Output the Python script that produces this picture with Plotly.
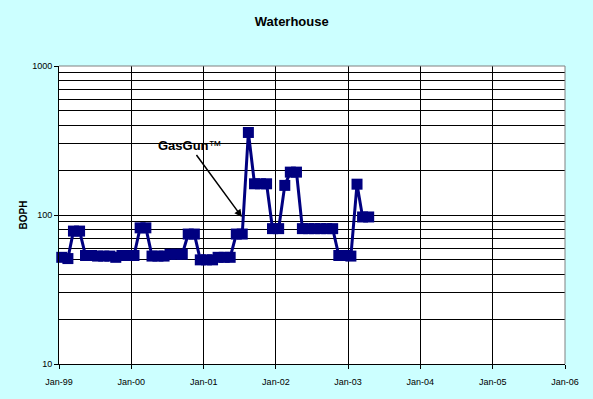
import math
import plotly.graph_objects as go

# ---- data (monthly readings) ----
dates = [
    "1999-01-15", "1999-02-15", "1999-03-15", "1999-04-15", "1999-05-15", "1999-06-15",
    "1999-07-15", "1999-08-15", "1999-09-15", "1999-10-15", "1999-11-15", "1999-12-15",
    "2000-01-15", "2000-02-15", "2000-03-15", "2000-04-15", "2000-05-15", "2000-06-15",
    "2000-07-15", "2000-08-15", "2000-09-15", "2000-10-15", "2000-11-15", "2000-12-15",
    "2001-01-15", "2001-02-15", "2001-03-15", "2001-04-15", "2001-05-15", "2001-06-15",
    "2001-07-15", "2001-08-15", "2001-09-15", "2001-10-15", "2001-11-15", "2001-12-15",
    "2002-01-15", "2002-02-15", "2002-03-15", "2002-04-15", "2002-05-15", "2002-06-15",
    "2002-07-15", "2002-08-15", "2002-09-15", "2002-10-15", "2002-11-15", "2002-12-15",
    "2003-01-15", "2003-02-15", "2003-03-15", "2003-04-15",
]
boph = [
    52, 51, 78, 78, 53.5, 53.5, 53, 53, 53, 52, 53.5, 53.5,
    53.5, 82, 82, 53, 53, 53, 54.5, 54.5, 54.5, 74.5, 74.5, 50,
    50, 50, 52, 52, 52, 74.5, 74.5, 358, 162, 162, 162, 81,
    81, 158, 194, 194, 81, 81, 81, 81, 81, 81, 53.5, 53.5,
    53, 161, 97, 97,
]
x_ticks = ["1999-01-01", "2000-01-01", "2001-01-01", "2002-01-01",
           "2003-01-01", "2004-01-01", "2005-01-01", "2006-01-01"]
x_labels = ["Jan-99", "Jan-00", "Jan-01", "Jan-02", "Jan-03", "Jan-04", "Jan-05", "Jan-06"]
y_ticks = [10, 100, 1000]
y_labels = ["10", "100", "1000"]
y_minor = [20, 30, 40, 50, 60, 70, 80, 90, 200, 300, 400, 500, 600, 700, 800, 900]

annot_date = "2001-07-13"
annot_value = 97
annot_text = "<b>GasGun</b>™"

NAVY = "#000080"
FONT = "Liberation Sans, Arial, sans-serif"

fig = go.Figure()
fig.add_trace(go.Scatter(
    x=dates, y=boph, mode="lines+markers",
    line=dict(color=NAVY, width=3),
    marker=dict(symbol="square", size=11, color=NAVY),
    showlegend=False, cliponaxis=False,
))

fig.update_layout(
    width=593, height=399,
    margin=dict(l=58.5, r=27.5, t=66, b=35),
    paper_bgcolor="#CCFFFF",
    plot_bgcolor="#FFFFFF",
    font=dict(family=FONT, size=9, color="#000000"),
    title=dict(text="<b>Waterhouse</b>", x=0.492, xref="container", xanchor="center",
               y=0.945, yref="container", yanchor="middle",
               font=dict(family=FONT, size=13, color="#000000")),
    xaxis=dict(
        type="date", range=["1999-01-01", "2006-01-01"],
        tickvals=x_ticks, ticktext=x_labels,
        showgrid=True, gridcolor="#000000", gridwidth=1,
        showline=True, linecolor="#000000", linewidth=1,
        ticks="outside", ticklen=4, tickcolor="#000000",
        ticklabelstandoff=5,
        zeroline=False, automargin=False,
        tickfont=dict(size=9),
    ),
    yaxis=dict(
        type="log", range=[1, 3],
        tickvals=y_ticks, ticktext=y_labels,
        showgrid=True, gridcolor="#000000", gridwidth=1,
        minor=dict(tickvals=y_minor, showgrid=True, gridcolor="#000000", gridwidth=1, ticks=""),
        showline=True, linecolor="#000000", linewidth=1,
        ticks="outside", ticklen=4, tickcolor="#000000",
        zeroline=False, automargin=False,
        tickfont=dict(size=9),
        title=dict(text="<b>BOPH</b>", standoff=2, font=dict(size=10)),
    ),
    shapes=[
        dict(type="line", xref="paper", yref="paper", x0=0, x1=1, y0=1, y1=1,
             line=dict(color="#808080", width=1), layer="above"),
        dict(type="line", xref="paper", yref="paper", x0=1, x1=1, y0=0, y1=1,
             line=dict(color="#808080", width=1), layer="above"),
    ],
    annotations=[
        dict(x=annot_date, y=math.log10(annot_value),
             xref="x", yref="y", text=annot_text,
             showarrow=True, arrowhead=2, arrowsize=1, arrowwidth=1.5, arrowcolor="#000000",
             ax=-52, ay=-71, font=dict(family=FONT, size=13, color="#000000")),
    ],
)

fig.write_html("out.html", config={"displayModeBar": False},
               post_script="document.body.style.margin='0';")
